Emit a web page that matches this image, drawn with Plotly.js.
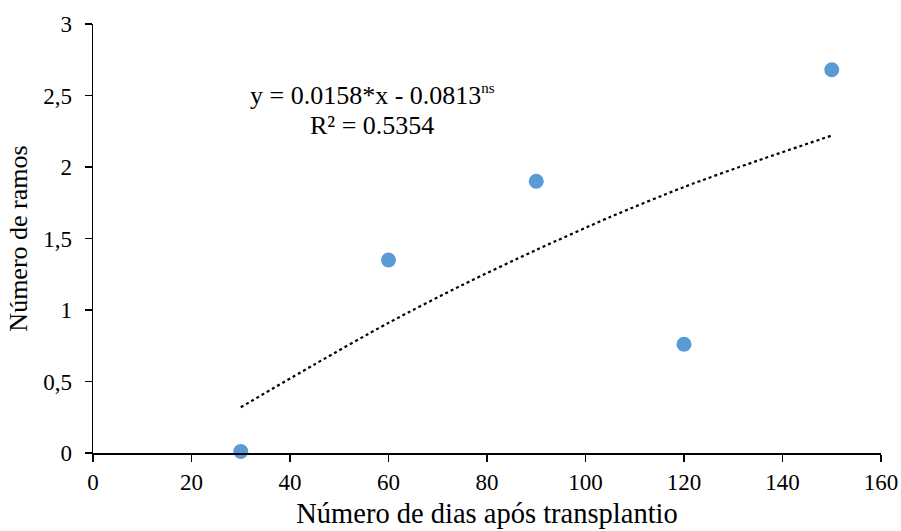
<!DOCTYPE html>
<html>
<head>
<meta charset="utf-8">
<script src="https://cdn.plot.ly/plotly-3.0.1.min.js"></script>
<style>html,body{margin:0;padding:0;background:#fff;}#chart{width:901px;height:531px;}</style>
</head>
<body>
<div id="chart"></div>
<script>
// Observed data
const dias = [30, 60, 90, 120, 150];
const ramos = [0.01, 1.35, 1.9, 0.76, 2.68];
// Trend line as drawn
const trendX = [30, 45, 60, 75, 90, 105, 120, 135, 150];
const trendY = [0.32, 0.62, 0.91, 1.175, 1.42, 1.65, 1.86, 2.045, 2.22];
const xTicks = [0, 20, 40, 60, 80, 100, 120, 140, 160];
const yTicks = [0, 0.5, 1, 1.5, 2, 2.5, 3];
const eqText = 'y = 0.0158*x - 0.0813<sup><span style="font-size:15px">ns</span></sup>';
const r2Text = 'R² = 0.5354';

const font = '"Liberation Serif", "Times New Roman", serif';

const traces = [
  {x: trendX, y: trendY, type: 'scatter', mode: 'lines', line: {color: '#000', width: 2.2, dash: 'dot', shape: 'spline', smoothing: 0.8}, hoverinfo: 'skip'},
  {x: dias, y: ramos, type: 'scatter', mode: 'markers', marker: {color: '#5B9BD5', size: 15}, cliponaxis: false}
];

const layout = {
  width: 901, height: 531,
  margin: {l: 93, r: 20, t: 24, b: 78},
  paper_bgcolor: '#fff', plot_bgcolor: '#fff',
  separators: ',.',
  showlegend: false,
  font: {family: font, size: 23, color: '#000'},
  xaxis: {
    range: [0, 160], tickvals: xTicks, showgrid: false, zeroline: false,
    showline: true, linecolor: '#000', linewidth: 1.5,
    ticks: 'outside', ticklen: 7, tickwidth: 1.5, tickcolor: '#000',
    ticklabelstandoff: 1,
    tickfont: {family: font, size: 23, color: '#000'},
    title: {text: 'Número de dias após transplantio', font: {family: font, size: 28.5, color: '#000'}, standoff: 9}
  },
  yaxis: {
    range: [0, 3], tickvals: yTicks, showgrid: false, zeroline: false,
    showline: true, linecolor: '#000', linewidth: 1.5,
    ticks: 'outside', ticklen: 7, tickwidth: 1.5, tickcolor: '#000',
    ticklabelstandoff: 8,
    tickfont: {family: font, size: 23, color: '#000'},
    title: {text: 'Número de ramos', font: {family: font, size: 26, color: '#000'}, standoff: 8}
  },
  annotations: [
    {xref: 'paper', yref: 'paper', x: (372-93)/788, y: (452.7-95)/428.7, text: eqText, showarrow: false, xanchor: 'center', yanchor: 'middle', font: {family: font, size: 26, color: '#000'}},
    {xref: 'paper', yref: 'paper', x: (372-93)/788, y: (452.7-125)/428.7, text: r2Text, showarrow: false, xanchor: 'center', yanchor: 'middle', font: {family: font, size: 26, color: '#000'}}
  ]
};

Plotly.newPlot('chart', traces, layout, {staticPlot: true, displayModeBar: false});
</script>
</body>
</html>
